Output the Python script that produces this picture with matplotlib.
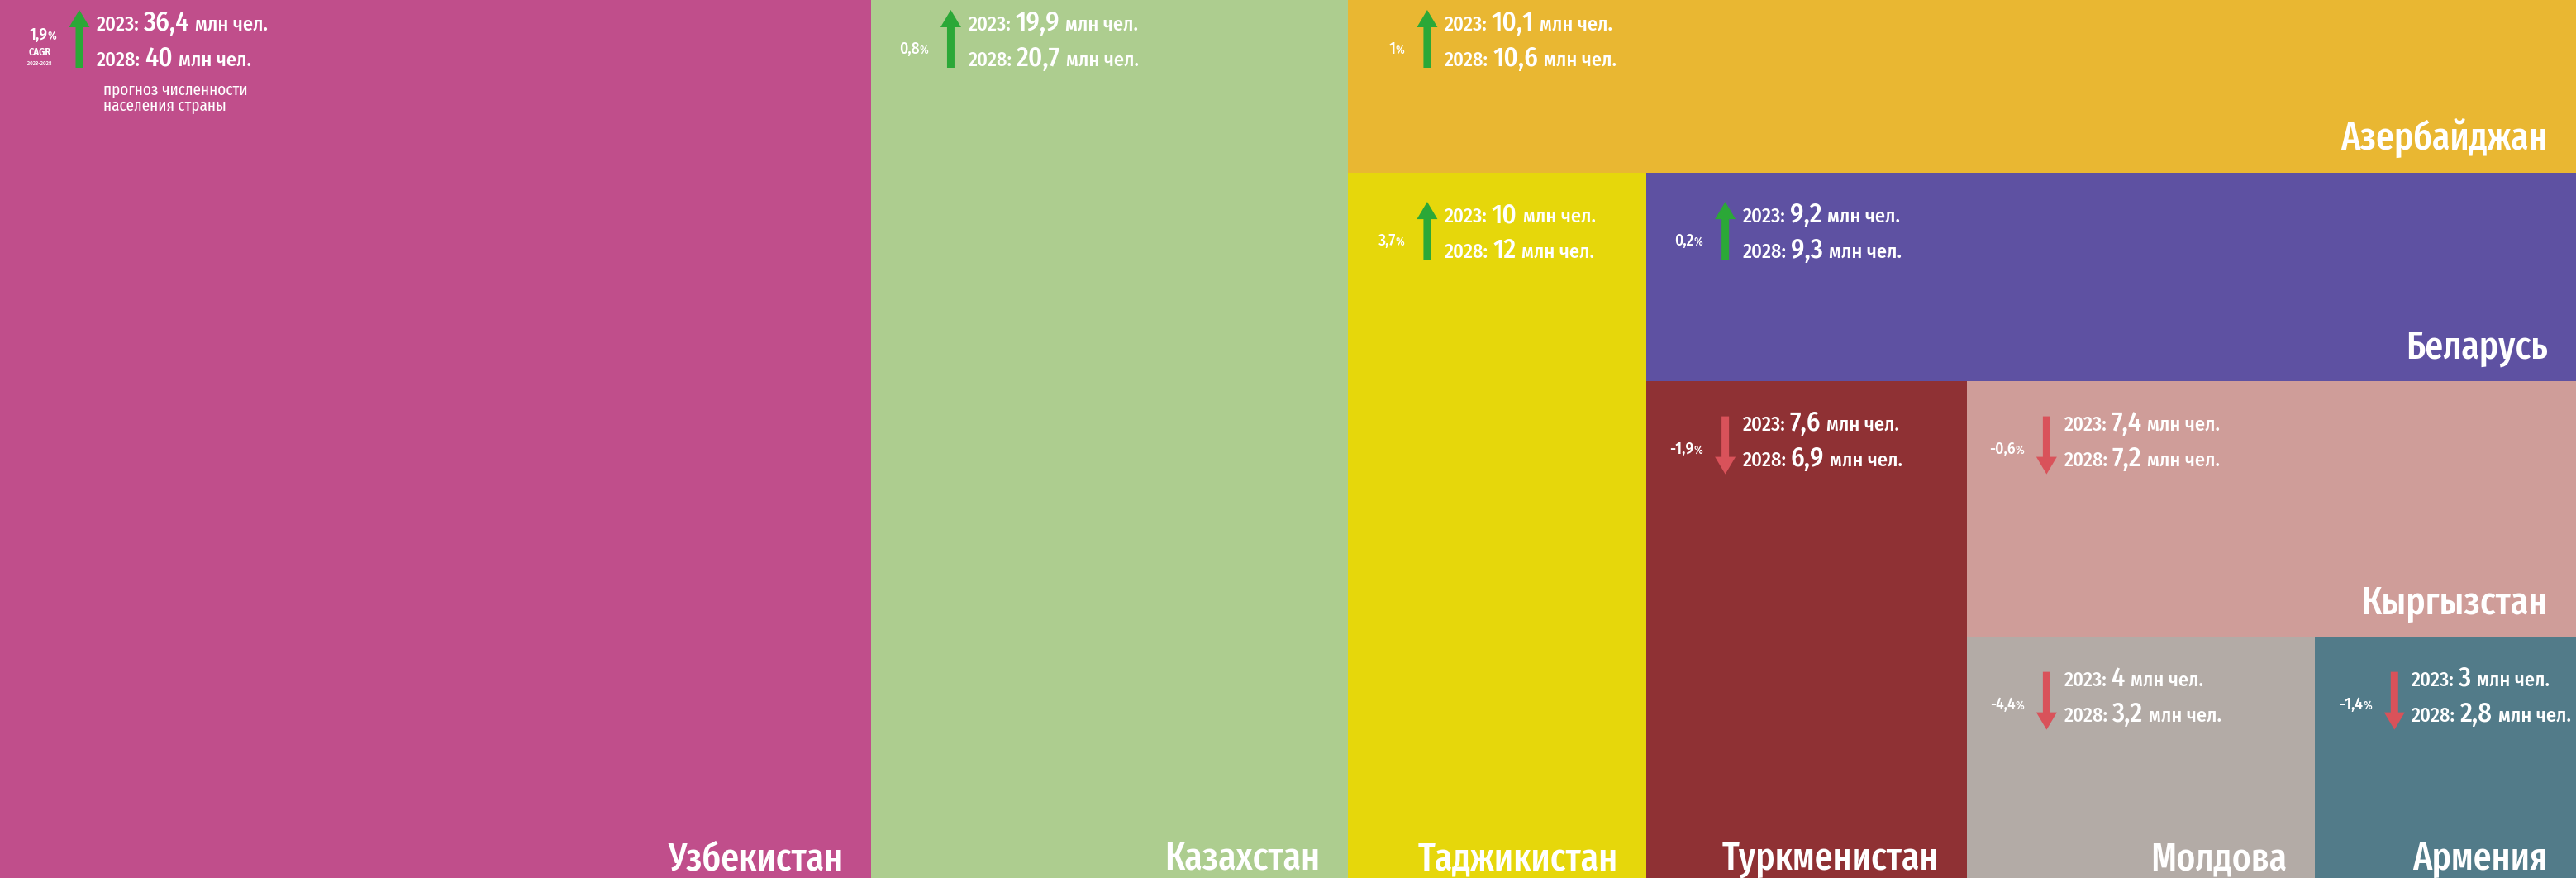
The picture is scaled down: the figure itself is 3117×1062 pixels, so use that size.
import matplotlib
matplotlib.use("Agg")
import matplotlib.pyplot as plt
from matplotlib.patches import Rectangle, FancyArrow

# population, mln people
countries = ["Узбекистан", "Казахстан", "Азербайджан", "Таджикистан", "Беларусь",
             "Туркменистан", "Кыргызстан", "Молдова", "Армения"]
pop_2023 = [36.4, 19.9, 10.1, 10, 9.2, 7.6, 7.4, 4, 3]
pop_2028 = [40, 20.7, 10.6, 12, 9.3, 6.9, 7.2, 3.2, 2.8]
cagr = [1.9, 0.8, 1, 3.7, 0.2, -1.9, -0.6, -4.4, -1.4]

colors = ["#C04E8B", "#ADCD8F", "#E9B732", "#E6D70B", "#5E51A2",
          "#8F3134", "#CF9D99", "#B3ABA6", "#527B89"]
splits = "vvhvhvhvv"  # v = strip on the left, h = strip on top
UP = "#2BA837"
DOWN = "#D9525A"

W, H = 3117, 1062
FONT = ["Fira Sans Condensed", "DejaVu Sans"]
FONT_NARROW = ["Fira Sans Extra Condensed", "DejaVu Sans"]


def strip_layout(values, dirs, x, y, w, h):
    rects = []
    rest = sum(values)
    for v, d in zip(values, dirs):
        frac = v / rest
        if d == "v":
            rects.append((x, y, w * frac, h))
            x += w * frac
            w -= w * frac
        else:
            rects.append((x, y, w, h * frac))
            y += h * frac
            h -= h * frac
        rest -= v
    return rects


def fmt(v):
    return f"{v:g}".replace(".", ",")


fig = plt.figure(figsize=(W / 100, H / 100), dpi=100)
ax = fig.add_axes([0, 0, 1, 1])
ax.set_xlim(0, W)
ax.set_ylim(H, 0)
ax.axis("off")
renderer = fig.canvas.get_renderer()


def put(x, y, s, size, weight=500, ha="left", va="baseline", family=FONT):
    return ax.text(x, y, s, fontsize=size, fontweight=weight, color="white",
                   ha=ha, va=va, family=family)


def put_line(x, y, parts):
    for s, size, weight in parts:
        t = put(x, y, s, size, weight)
        x += t.get_window_extent(renderer).width + size * 0.3


rects = strip_layout(pop_2023, splits, 0, 0, W, H)

for i, (x, y, w, h) in enumerate(rects):
    ax.add_patch(Rectangle((x, y), w, h, facecolor=colors[i], edgecolor="none"))

    # country name, bottom right
    off = 10 if y + h >= H - 1 else 27
    put(x + w - 34, y + h - off, countries[i], 34, ha="right", family=FONT_NARROW)

    dy = 0 if y < 1 else 23

    # two lines with values
    put_line(x + 117, y + 37 + dy, [("2023:", 17.5, 500), (fmt(pop_2023[i]), 23.5, 500),
                                    ("млн чел.", 17.5, 500)])
    put_line(x + 117, y + 80 + dy, [("2028:", 17.5, 500), (fmt(pop_2028[i]), 23.5, 500),
                                    ("млн чел.", 17.5, 500)])

    # arrow
    ax_x = x + 96
    if cagr[i] >= 0:
        ax.add_patch(FancyArrow(ax_x, y + 82 + dy, 0, -70, width=9, head_width=25,
                                head_length=21, length_includes_head=True,
                                color=UP, linewidth=0))
    else:
        ax.add_patch(FancyArrow(ax_x, y + 20 + dy, 0, 70, width=9, head_width=25,
                                head_length=21, length_includes_head=True,
                                color=DOWN, linewidth=0))

    # CAGR value
    if i == 0:
        put(x + 58, y + 48, fmt(cagr[i]), 14, ha="right")
        put(x + 58, y + 48, "%", 10)
        put(x + 48, y + 67, "CAGR", 9, 600, ha="center")
        put(x + 48, y + 79, "2023-2028", 5, ha="center")
        put(x + 125, y + 115, "прогноз численности", 15, 400, family=FONT_NARROW)
        put(x + 125, y + 134, "населения страны", 15, 400, family=FONT_NARROW)
    else:
        cy = y + (60 if dy == 0 else 83) + 5
        put(x + 58, cy, fmt(cagr[i]), 14, ha="right")
        put(x + 58, cy, "%", 10)

fig.savefig("out.png", dpi=100)
